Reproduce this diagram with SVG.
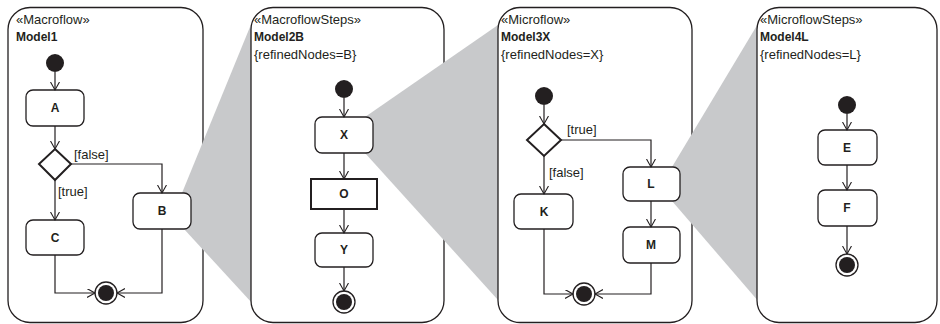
<svg xmlns="http://www.w3.org/2000/svg" width="940" height="324" viewBox="0 0 940 324">
<defs>
<style>
.frame{fill:#fff;stroke:#231f20;stroke-width:1.3}
.gray{fill:#c8c9cb;stroke:none}
.act{fill:#fff;stroke:#231f20;stroke-width:1.3}
.act2{fill:#fff;stroke:#231f20;stroke-width:2}
.dia{fill:#fff;stroke:#231f20;stroke-width:2}
.init{fill:#231f20}
.fin{fill:#fff;stroke:#231f20;stroke-width:1.3}
.edge{fill:none;stroke:#231f20;stroke-width:1.2;marker-end:url(#arr)}
.st{font-family:"Liberation Sans",Arial,sans-serif;font-size:13px;fill:#231f20}
.nm{font-family:"Liberation Sans",Arial,sans-serif;font-size:12px;font-weight:bold;fill:#231f20}
.lb{font-family:"Liberation Sans",Arial,sans-serif;font-size:12px;font-weight:bold;fill:#231f20;text-anchor:middle}
.gd{font-family:"Liberation Sans",Arial,sans-serif;font-size:13px;fill:#231f20}
</style>
<marker id="arr" markerUnits="userSpaceOnUse" markerWidth="10" markerHeight="10" refX="8" refY="4.5" orient="auto" viewBox="0 0 10 10">
<path d="M0,0 L8,4.5 L0,9" fill="none" stroke="#231f20" stroke-width="1.1"/>
</marker>
</defs>

<g id="panel1"><rect class="frame" x="8" y="7.5" width="195" height="315" rx="22"/></g>
<polygon class="gray" points="182,193 252,22 252,303 184,229"/>
<g id="panel2"><rect class="frame" x="251" y="7.5" width="193" height="315" rx="22"/></g>
<polygon class="gray" points="365,117 498,25 498,300 365,153"/>
<g id="panel3"><rect class="frame" x="498" y="7.5" width="194" height="315" rx="22"/></g>
<polygon class="gray" points="672,167 759,22 759,302 672,201"/>
<g id="panel4"><rect class="frame" x="757" y="7.5" width="180" height="315" rx="22"/></g>

<g id="panel1-text">
<text class="st" x="16" y="24">«Macroflow»</text>
<text class="nm" x="16" y="41">Model1</text>
</g>
<g id="panel2-text">
<text class="st" x="254" y="24">«MacroflowSteps»</text>
<text class="nm" x="254" y="41">Model2B</text>
<text class="st" x="254" y="59">{refinedNodes=B}</text>
</g>
<g id="panel3-text">
<text class="st" x="501" y="24">«Microflow»</text>
<text class="nm" x="501" y="41">Model3X</text>
<text class="st" x="501" y="59">{refinedNodes=X}</text>
</g>
<g id="panel4-text">
<text class="st" x="760" y="24">«MicroflowSteps»</text>
<text class="nm" x="760" y="41">Model4L</text>
<text class="st" x="760" y="59">{refinedNodes=L}</text>
</g>

<!-- Panel 1 nodes -->
<g id="p1-init"><circle class="init" cx="55" cy="63" r="9"/></g>
<g id="p1-A"><rect class="act" x="26" y="90" width="58" height="36" rx="7"/><text class="lb" x="55" y="112">A</text></g>
<g id="p1-dec"><polygon class="dia" points="55,149 71,164 55,180 39,164"/></g>
<g id="p1-B"><rect class="act" x="133" y="193" width="58" height="36" rx="7"/><text class="lb" x="162" y="215">B</text></g>
<g id="p1-C"><rect class="act" x="26" y="220" width="58" height="35" rx="7"/><text class="lb" x="55" y="242">C</text></g>
<g id="p1-final"><circle class="fin" cx="106" cy="293" r="11"/><circle class="init" cx="106" cy="293" r="8"/></g>

<!-- Panel 2 nodes -->
<g id="p2-init"><circle class="init" cx="344" cy="89" r="9"/></g>
<g id="p2-X"><rect class="act" x="315" y="117" width="58" height="36" rx="7"/><text class="lb" x="344" y="139">X</text></g>
<g id="p2-O"><rect class="act2" x="311" y="179" width="66" height="30"/><text class="lb" x="344" y="198">O</text></g>
<g id="p2-Y"><rect class="act" x="315" y="233" width="58" height="34" rx="7"/><text class="lb" x="344" y="254">Y</text></g>
<g id="p2-final"><circle class="fin" cx="344" cy="302" r="11"/><circle class="init" cx="344" cy="302" r="8"/></g>

<!-- Panel 3 nodes -->
<g id="p3-init"><circle class="init" cx="544" cy="96" r="9"/></g>
<g id="p3-dec"><polygon class="dia" points="544,124 561,140 544,156 527,140"/></g>
<g id="p3-L"><rect class="act" x="623" y="167" width="57" height="34" rx="7"/><text class="lb" x="651" y="188">L</text></g>
<g id="p3-K"><rect class="act" x="514" y="194" width="59" height="35" rx="7"/><text class="lb" x="544" y="216">K</text></g>
<g id="p3-M"><rect class="act" x="623" y="227" width="57" height="36" rx="7"/><text class="lb" x="651" y="249">M</text></g>
<g id="p3-final"><circle class="fin" cx="584" cy="294" r="11"/><circle class="init" cx="584" cy="294" r="8"/></g>

<!-- Panel 4 nodes -->
<g id="p4-init"><circle class="init" cx="847" cy="105" r="9"/></g>
<g id="p4-E"><rect class="act" x="818" y="130" width="59" height="35" rx="7"/><text class="lb" x="847" y="152">E</text></g>
<g id="p4-F"><rect class="act" x="818" y="190" width="59" height="36" rx="7"/><text class="lb" x="847" y="212">F</text></g>
<g id="p4-final"><circle class="fin" cx="847" cy="265" r="11"/><circle class="init" cx="847" cy="265" r="8"/></g>

<g id="connectors">
<path class="edge" d="M55,72 V90"/>
<path class="edge" d="M55,126 V149"/>
<path class="edge" d="M71,164 H162 V193"/>
<path class="edge" d="M55,180 V220"/>
<path class="edge" d="M55,255 V293 H95"/>
<path class="edge" d="M162,229 V293 H117"/>
<text class="gd" x="74" y="159">[false]</text>
<text class="gd" x="58" y="196">[true]</text>

<path class="edge" d="M344,98 V117"/>
<path class="edge" d="M344,153 V179"/>
<path class="edge" d="M344,209 V233"/>
<path class="edge" d="M344,267 V291"/>

<path class="edge" d="M544,105 V124"/>
<path class="edge" d="M561,140 H651 V167"/>
<path class="edge" d="M544,156 V194"/>
<path class="edge" d="M544,229 V294 H573"/>
<path class="edge" d="M651,201 V227"/>
<path class="edge" d="M651,263 V294 H595"/>
<text class="gd" x="567" y="134">[true]</text>
<text class="gd" x="549" y="177">[false]</text>

<path class="edge" d="M847,114 V130"/>
<path class="edge" d="M847,165 V190"/>
<path class="edge" d="M847,226 V254"/>
</g>
</svg>
